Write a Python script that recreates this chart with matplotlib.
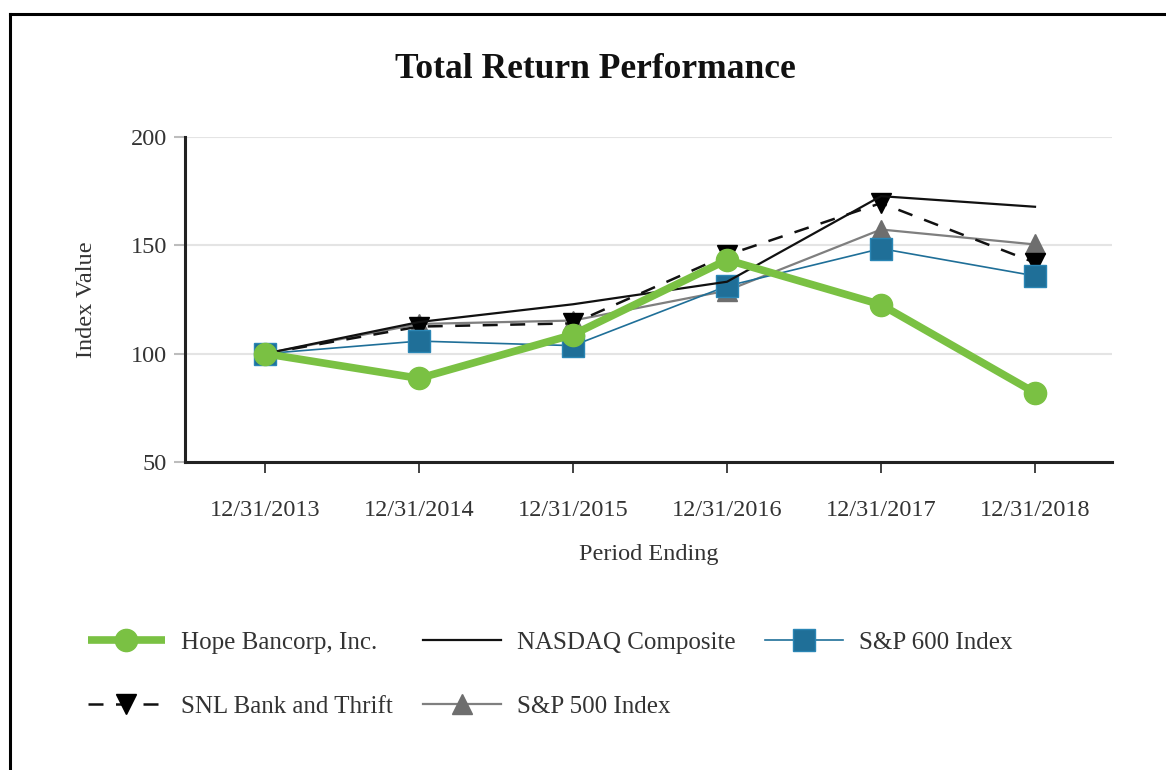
import matplotlib
matplotlib.use("Agg")
import matplotlib.pyplot as plt
from matplotlib.lines import Line2D

periods = ["12/31/2013", "12/31/2014", "12/31/2015", "12/31/2016", "12/31/2017", "12/31/2018"]
hope = [100.0, 88.6, 108.8, 143.3, 122.6, 82.0]
nasdaq = [100.0, 114.6, 122.8, 133.2, 172.7, 167.8]
snl = [100.0, 112.5, 114.0, 145.5, 169.5, 142.0]
sp500 = [100.0, 113.7, 115.3, 129.1, 157.3, 150.4]
sp600 = [100.0, 105.8, 103.7, 131.2, 148.5, 135.9]
yticks = [50, 100, 150, 200]

plt.rcParams['font.family'] = ['Liberation Serif', 'DejaVu Serif']

W, H = 1166, 770
fig = plt.figure(figsize=(W / 100, H / 100), dpi=100)
ax = fig.add_axes([185 / W, 1 - 462 / H, (1112 - 185) / W, (462 - 137) / H])

x = list(range(len(periods)))
green = '#7ac143'
blue = '#1f6f98'
gray = '#6e6e6e'

l500, = ax.plot(x, sp500, color='#7f7f7f', lw=1.6, marker='^', ms=14, mfc=gray, mec=gray, zorder=3)
lsnl, = ax.plot(x, snl, color='#111111', lw=1.8, ls=(0, (6, 5)), marker='v', ms=14, mfc='black', mec='black', zorder=4)
l600, = ax.plot(x, sp600, color=blue, lw=1.2, marker='s', ms=15.5, mfc=blue, mec='#2a86b5', zorder=5)
lnas, = ax.plot(x, nasdaq, color='#111111', lw=1.6, zorder=6)
lhope, = ax.plot(x, hope, color=green, lw=5.5, marker='o', ms=16, mfc=green, mec=green,
                 solid_capstyle='butt', zorder=7)

ax.set_xlim(-0.52, 5.5)
ax.set_ylim(50, 200)
ax.set_yticks(yticks)
ax.set_xticks(x)
ax.set_xticklabels(periods)
ax.yaxis.grid(True, color='#e4e4e4', lw=1.5, zorder=0)
ax.set_axisbelow(True)
for s in ['top', 'right']:
    ax.spines[s].set_visible(False)
for s in ['left', 'bottom']:
    ax.spines[s].set_linewidth(2.2)
    ax.spines[s].set_color('#222222')
ax.tick_params(axis='y', length=8, width=1.5, color='#bdbdbd', labelsize=17.5, labelcolor='#333333', pad=5)
ax.tick_params(axis='x', length=8, width=1.2, color='#222222', labelsize=17.5, labelcolor='#333333', pad=19)

ax.set_xlabel('Period Ending', fontsize=17.5, color='#333333', labelpad=17)
ax.set_ylabel('Index Value', fontsize=17.5, color='#333333', labelpad=24)

fig.text(595 / W, 1 - 70 / H, 'Total Return Performance', fontsize=25.5, fontweight='bold',
         ha='center', va='center', color='#111111')

handles = [lhope, lsnl, lnas, l500, l600]
labels = ['Hope Bancorp, Inc.', 'SNL Bank and Thrift', 'NASDAQ Composite', 'S&P 500 Index', 'S&P 600 Index']
leg = fig.legend(handles, labels, loc='upper left', bbox_to_anchor=(65 / W, 1 - 609 / H), ncol=3,
                 frameon=False, fontsize=18, handlelength=3.1, handletextpad=0.65,
                 columnspacing=1.2, labelspacing=1.65)
for t in leg.get_texts():
    t.set_color('#333333')

# outer frame
fig.add_artist(Line2D([10 / W, 1.0], [1 - 14 / H, 1 - 14 / H], transform=fig.transFigure, color='black', lw=2.2))
fig.add_artist(Line2D([10 / W, 10 / W], [1 - 14 / H, 0.0], transform=fig.transFigure, color='black', lw=2.2))

fig.savefig('out.png', dpi=100)
